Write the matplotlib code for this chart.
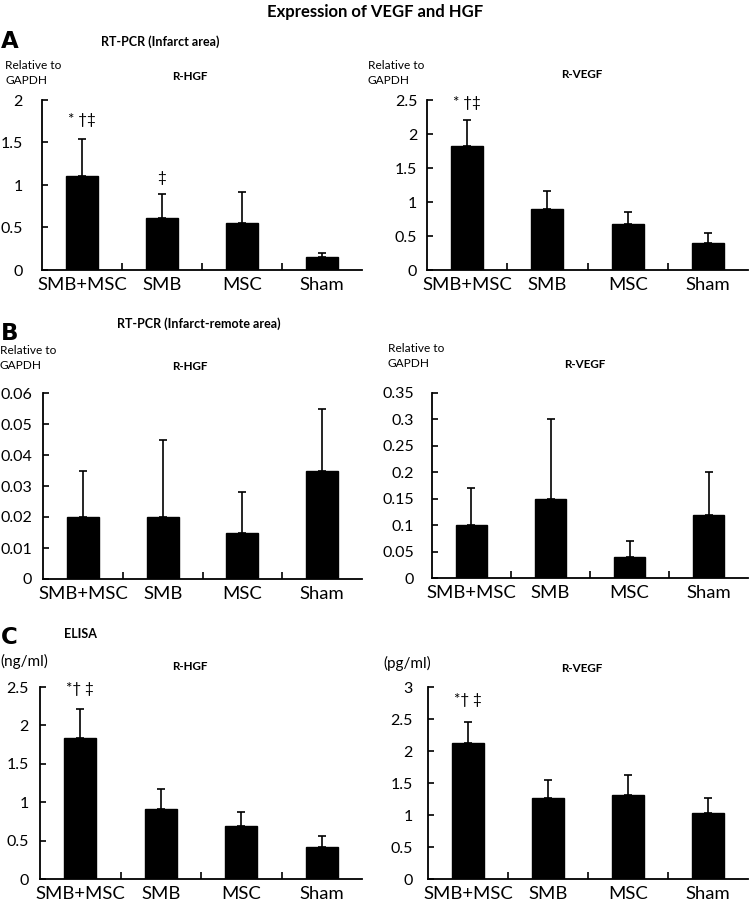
"""Expression of VEGF and HGF: six bar panels (RT-PCR infarct / remote, ELISA)."""

import matplotlib

matplotlib.use("Agg")

import matplotlib.pyplot as plt

plt.rcParams["font.family"] = ["Lato", "DejaVu Sans"]

W, H = 750, 905
groups = ["SMB+MSC", "SMB", "MSC", "Sham"]

# panel A: RT-PCR infarct area
a_hgf = [1.11, 0.61, 0.555, 0.152]
a_hgf_err = [0.43, 0.28, 0.36, 0.05]
a_vegf = [1.82, 0.89, 0.68, 0.40]
a_vegf_err = [0.38, 0.27, 0.18, 0.15]

# panel B: RT-PCR infarct-remote area
b_hgf = [0.020, 0.020, 0.015, 0.035]
b_hgf_err = [0.015, 0.025, 0.013, 0.020]
b_vegf = [0.10, 0.15, 0.04, 0.12]
b_vegf_err = [0.07, 0.15, 0.03, 0.08]

# panel C: ELISA
c_hgf = [1.83, 0.91, 0.69, 0.42]
c_hgf_err = [0.38, 0.26, 0.18, 0.14]
c_vegf = [2.12, 1.27, 1.31, 1.03]
c_vegf_err = [0.33, 0.27, 0.31, 0.23]

panels = [
    # values, errors, ymax, ystep, box (left, top, right, baseline px), label pad, stars
    (a_hgf, a_hgf_err, 2.0, 0.5, (42, 100, 362, 270), 14,
     [(0, 1.76, "* †‡"), (1, 1.08, "‡")]),
    (a_vegf, a_vegf_err, 2.5, 0.5, (427, 100, 748, 270), 7,
     [(0, 2.45, "* †‡")]),
    (b_hgf, b_hgf_err, 0.06, 0.01, (43, 393, 362, 579), 8, []),
    (b_vegf, b_vegf_err, 0.35, 0.05, (432, 393, 748, 578), 13, []),
    (c_hgf, c_hgf_err, 2.5, 0.5, (40, 687, 362, 879), 8,
     [(0, 2.47, "*† ‡")]),
    (c_vegf, c_vegf_err, 3.0, 0.5, (428, 687, 748, 879), 11,
     [(0, 2.80, "*† ‡")]),
]

fig = plt.figure(figsize=(W / 100, H / 100), dpi=100)

for vals, errs, ymax, step, (l, t, r, b), pad, stars in panels:
    ax = fig.add_axes([l / W, (H - b) / H, (r - l) / W, (b - t) / H])
    x = range(len(groups))
    ax.bar(x, vals, width=0.4, color="black", edgecolor="black")
    ax.errorbar(x, vals, yerr=[[0] * len(errs), errs], fmt="none",
                ecolor="black", elinewidth=1.2, capsize=3, capthick=1.2)
    ax.set_xlim(-0.5, 3.5)
    ax.set_ylim(0, ymax)
    n = int(round(ymax / step))
    yt = [i * step for i in range(n + 1)]
    ax.set_yticks(yt)
    ax.set_yticklabels(["{:g}".format(round(v, 3)) for v in yt], fontsize=11.5)
    ax.set_xticks([0.5, 1.5, 2.5])
    ax.set_xticklabels([])
    ax.set_xticks(list(x), minor=True)
    ax.set_xticklabels(groups, minor=True, fontsize=13.3)
    ax.tick_params(axis="x", which="minor", length=0, pad=5)
    ax.tick_params(axis="x", which="major", direction="in", length=5, width=1.2)
    ax.tick_params(axis="y", direction="in", length=4, width=1.2, pad=pad)
    for s in ["top", "right"]:
        ax.spines[s].set_visible(False)
    for s in ["left", "bottom"]:
        ax.spines[s].set_linewidth(1.3)
    for xi, yi, txt in stars:
        ax.text(xi, yi, txt, ha="center", va="center", fontsize=11)


def ftext(px, py, s, **kw):
    fig.text(px / W, 1 - py / H, s, **kw)


ftext(375, 12, "Expression of VEGF and HGF", ha="center", va="center",
      fontsize=12, fontweight="bold")

for letter, py in [("A", 42), ("B", 333), ("C", 637)]:
    ftext(1, py, letter, ha="left", va="center", fontsize=16.5,
          fontweight="bold", family="DejaVu Sans")

ftext(101, 42, "RT-PCR (Infarct area)", ha="left", va="center", fontsize=9, fontweight="bold")
ftext(117, 324, "RT-PCR (Infarct-remote area)", ha="left", va="center", fontsize=9, fontweight="bold")
ftext(64, 634, "ELISA", ha="left", va="center", fontsize=9, fontweight="bold")

for px, py in [(5, 73), (368, 73), (0, 358), (388, 356)]:
    ftext(px, py, "Relative to\nGAPDH", ha="left", va="center", fontsize=8.6, linespacing=1.45)
ftext(0, 661, "(ng/ml)", ha="left", va="center", fontsize=11)
ftext(383, 663, "(pg/ml)", ha="left", va="center", fontsize=11)

for px, py, s in [(190, 76, "R-HGF"), (582, 75, "R-VEGF"), (190, 366, "R-HGF"),
                  (585, 365, "R-VEGF"), (190, 666, "R-HGF"), (582, 668, "R-VEGF")]:
    ftext(px, py, s, ha="center", va="center", fontsize=8.4, fontweight="bold")

fig.savefig("out.png", dpi=100, facecolor="white")
